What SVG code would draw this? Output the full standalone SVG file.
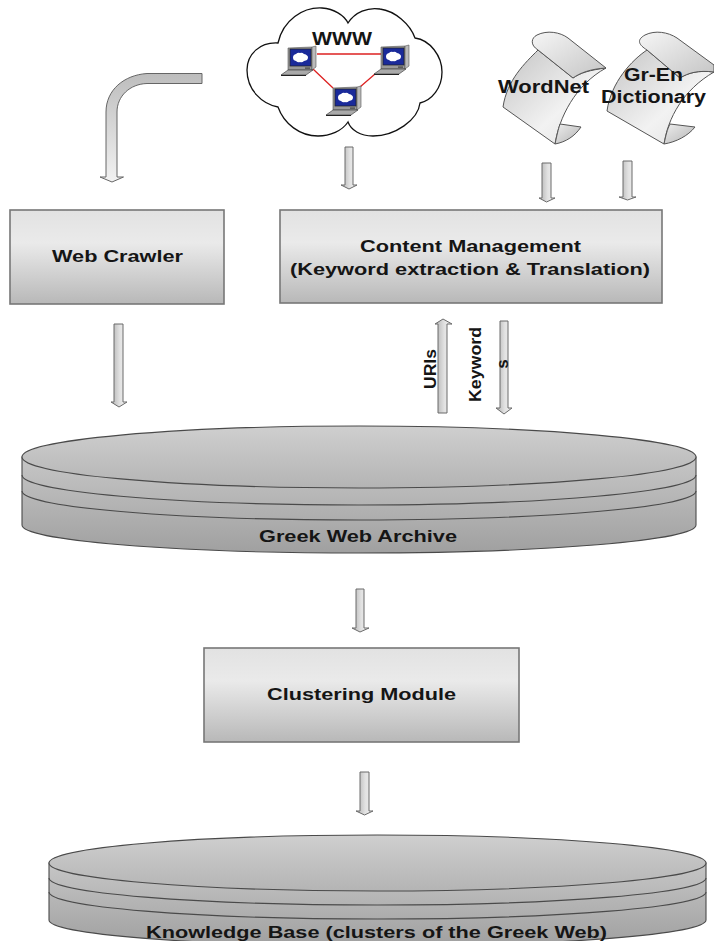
<svg xmlns="http://www.w3.org/2000/svg" width="714" height="941" viewBox="0 0 714 941">
<style>
.t{font-family:"Liberation Sans",Arial,sans-serif;font-weight:700;fill:#151515;text-anchor:middle}
.box{fill:url(#bx);stroke:#777;stroke-width:1.6}
.arr{fill:url(#ar);stroke:#6a6a6a;stroke-width:1}
.disc{stroke:#4a4a4a;stroke-width:1.1}
.pg{stroke:#555;stroke-width:1}
</style>
<defs>
<linearGradient id="bx" x1="0" y1="0" x2="0" y2="1"><stop offset="0" stop-color="#e2e2e2"/><stop offset=".35" stop-color="#eaeaea"/><stop offset="1" stop-color="#b8b8b8"/></linearGradient>
<linearGradient id="ar" x1="0" y1="0" x2="1" y2="0"><stop offset="0" stop-color="#b0b0b0"/><stop offset=".55" stop-color="#e2e2e2"/><stop offset="1" stop-color="#f0f0f0"/></linearGradient>
<linearGradient id="arv" x1="0" y1="0" x2="0" y2="1"><stop offset="0" stop-color="#bdbdbd"/><stop offset="1" stop-color="#f2f2f2"/></linearGradient>
<linearGradient id="top" x1="0" y1="0" x2="0" y2="1"><stop offset="0" stop-color="#cfcfcf"/><stop offset="1" stop-color="#b4b4b4"/></linearGradient>
<linearGradient id="side" x1="0" y1="0" x2="0" y2="1"><stop offset="0" stop-color="#c6c6c6"/><stop offset="1" stop-color="#a0a0a0"/></linearGradient>
<linearGradient id="pg" x1="0" y1="0" x2="1" y2="1"><stop offset="0" stop-color="#c4c4c4"/><stop offset=".6" stop-color="#f2f2f2"/><stop offset="1" stop-color="#dedede"/></linearGradient>
<linearGradient id="pf" x1="0" y1="0" x2="1" y2="1"><stop offset="0" stop-color="#f6f6f6"/><stop offset="1" stop-color="#c4c4c4"/></linearGradient>
<linearGradient id="pb" x1="0" y1="0" x2="1" y2="1"><stop offset="0" stop-color="#eee"/><stop offset="1" stop-color="#b4b4b4"/></linearGradient>
<g id="lap">
<path d="M0 1L24 0V23H0Z" fill="#999" stroke="#555" stroke-width=".6"/>
<path d="M24 0L28 -1V20L24 23Z" fill="#bbb" stroke="#555" stroke-width=".6"/>
<rect x="2" y="2" width="21" height="17" fill="#1a2a9a" stroke="#222" stroke-width=".7"/>
<path d="M5 10.500q0-3 3-3.500q2-2 4 -1q2-1 4 1q4 1 4 3.500q0 3-4 3.500q-2 2-4 1q-2 1-4-1q-3-.5-3-3.500Z" fill="#fff"/>
<rect x="17" y="20.500" width="5" height="1.200" fill="#444"/>
<path d="M-7 28L0 23H25L18 28Z" fill="#aaa" stroke="#333" stroke-width=".6"/>
<path d="M-7 28H18V29H-7Z" fill="#222"/>
</g>
</defs>
<rect width="714" height="941" fill="#fff"/>

<g id="www">
<path d="M278 43C283 20 303 7 322 8C334 9 344 15 348 23C355 12 368 7 380 9C395 11 410 24 415 38C430 40 442 56 442 72C442 88 432 100 420 103C418 120 395 136 373 136C360 136 351 130 348 122C342 131 330 136 318 136C300 136 284 124 278 107C262 104 247 90 247 70C247 54 260 42 278 43Z" fill="#fff" stroke="#111" stroke-width="1.300"/>
<path d="M317 54H381M313 69L333 88M360 87L375 74" fill="none" stroke="#d22" stroke-width="1.300"/>
<use href="#lap" x="288" y="47"/>
<use href="#lap" x="381" y="46"/>
<use href="#lap" x="333" y="87"/>
<text class="t" x="342" y="45" font-size="18" textLength="60" lengthAdjust="spacingAndGlyphs">WWW</text>
</g>

<g id="wordnet">
<path class="pg" d="M538 50C525 63 507 80 503 107L555 144C559 118 575 85 606 68C590 70 580 73 573 78Z" fill="url(#pg)"/>
<path class="pg" d="M538 50C530 45 531 38 537 35C547 30 560 32 568 38L606 68C590 69 580 73 573 78Z" fill="url(#pf)"/>
<path class="pg" d="M555 144C557 135 558 130 560 124L581 127C575 136 566 142 555 144Z" fill="url(#pb)"/>
<text class="t" x="543.500" y="93" font-size="18" textLength="91" lengthAdjust="spacingAndGlyphs">WordNet</text>
</g>
<g id="dictionary">
<path class="pg" d="M647 50C632 60 611 82 607 111L664 144C668 118 683 90 714 72C698 70 688 73 680 78Z" fill="url(#pg)"/>
<path class="pg" d="M647 50C639 45 636 40 645 35C655 30 668 32 677 38L714 65V72C698 70 688 73 680 78Z" fill="url(#pf)"/>
<path class="pg" d="M664 144C666 135 667 130 670 124L695 127C688 136 676 142 664 144Z" fill="url(#pb)"/>
<text class="t" x="653.500" y="81" font-size="18" textLength="59" lengthAdjust="spacingAndGlyphs">Gr-En</text>
<text class="t" x="653.500" y="103" font-size="18" textLength="105" lengthAdjust="spacingAndGlyphs">Dictionary</text>
</g>

<g id="connectors">
<path d="M202 73.500H147C124 75 106 90 106 112V177H100L112 182L123.500 177H117V112C117 96 130 84 147 83.500H202Z" fill="url(#arv)" stroke="#666" stroke-width="1"/>
<path class="arr" d="M345 147H353V185H357L349 189L341 185H345Z"/>
<path class="arr" d="M542 163H551V198H555L546.500 202L539 198H542Z"/>
<path class="arr" d="M623 161H632V197H636L627.500 200L619 197H623Z"/>
<path class="arr" d="M114 324H123V402H127L119 407L111 402H114Z"/>
<path class="arr" d="M438 413H447V324H452L443 319L435 324H438Z"/>
<path class="arr" d="M500 321H508V408H512L504 414L496 408H500Z"/>
<path class="arr" d="M356 589H364V628H369L360 632L352 628H356Z"/>
<path class="arr" d="M360 772H369V811H373L364.500 815L356 811H360Z"/>
</g>

<g id="web-crawler">
<rect class="box" x="10" y="210" width="214" height="94"/>
<text class="t" x="117.500" y="262" font-size="17" textLength="131" lengthAdjust="spacingAndGlyphs">Web Crawler</text>
</g>
<g id="content-management">
<rect class="box" x="280" y="210" width="382" height="93"/>
<text class="t" x="470.500" y="252" font-size="17" textLength="221" lengthAdjust="spacingAndGlyphs">Content Management</text>
<text class="t" x="470" y="275" font-size="17" textLength="360" lengthAdjust="spacingAndGlyphs">(Keyword extraction &amp; Translation)</text>
</g>
<text class="t" font-size="17" textLength="40" lengthAdjust="spacingAndGlyphs" transform="translate(436,369) rotate(-90)">URIs</text>
<text class="t" font-size="17" textLength="75" lengthAdjust="spacingAndGlyphs" transform="translate(481,364.500) rotate(-90)">Keyword</text>
<text class="t" font-size="17" transform="translate(508,364) rotate(-90)">s</text>

<g id="greek-web-archive">
<path class="disc" fill="url(#side)" d="M22 457V525A337 28 0 0 0 696 525V457Z"/>
<path class="disc" fill="none" d="M22 475A337 30 0 0 0 696 475M22 491A337 29 0 0 0 696 491"/>
<ellipse class="disc" fill="url(#top)" cx="359" cy="457" rx="337" ry="31"/>
<text class="t" x="358" y="542" font-size="16" textLength="198" lengthAdjust="spacingAndGlyphs">Greek Web Archive</text>
</g>
<g id="clustering-module">
<rect class="box" x="204" y="648" width="315" height="94"/>
<text class="t" x="361.500" y="700" font-size="17" textLength="189" lengthAdjust="spacingAndGlyphs">Clustering Module</text>
</g>
<g id="knowledge-base">
<path class="disc" fill="url(#side)" d="M49 863V920A328 26 0 0 0 706 920V863Z"/>
<path class="disc" fill="none" d="M49 878A328 27 0 0 0 706 878M49 892A328 27 0 0 0 706 892"/>
<ellipse class="disc" fill="url(#top)" cx="377.500" cy="863" rx="328.500" ry="28"/>
<text class="t" x="376.500" y="938" font-size="17" textLength="461" lengthAdjust="spacingAndGlyphs">Knowledge Base (clusters of the Greek Web)</text>
</g>
</svg>
